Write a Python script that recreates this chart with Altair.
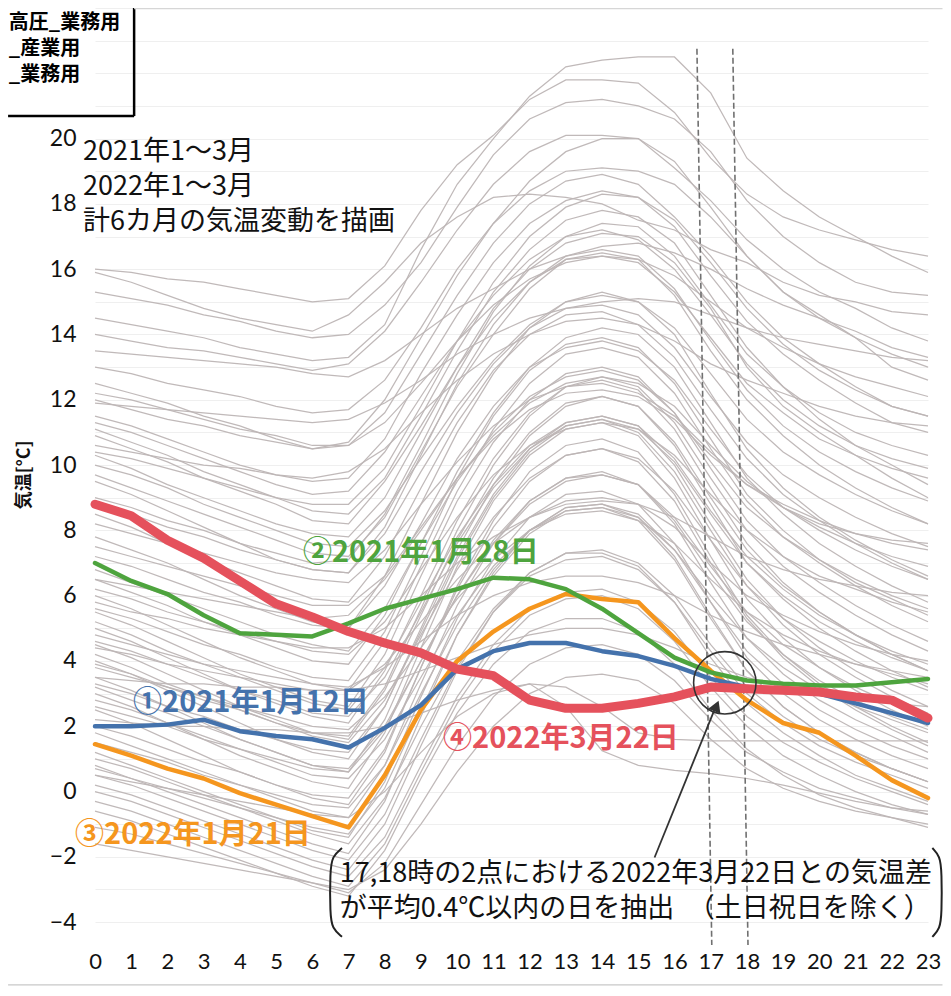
import altair as alt
import pandas as pd

hours = list(range(24))

# highlighted days (temperature in deg C, hour 0..23)
day_2021_0112 = [2.0, 2.0, 2.05, 2.2, 1.85, 1.7, 1.6, 1.35, 1.95, 2.65, 3.75, 4.3,
                 4.55, 4.55, 4.3, 4.15, 3.85, 3.45, 3.2, 3.1, 3.0, 2.7, 2.4, 2.1]
day_2021_0128 = [7.0, 6.45, 6.05, 5.4, 4.85, 4.8, 4.75, 5.15, 5.6, 5.9, 6.2, 6.55,
                 6.5, 6.2, 5.6, 4.85, 4.1, 3.65, 3.4, 3.3, 3.25, 3.25, 3.35, 3.45]
day_2022_0121 = [1.45, 1.1, 0.7, 0.4, -0.05, -0.4, -0.75, -1.1, 0.5, 2.5, 4.0, 4.9,
                 5.6, 6.05, 5.9, 5.8, 4.7, 3.7, 2.8, 2.1, 1.8, 1.1, 0.35, -0.2]
day_2022_0322 = [8.8, 8.45, 7.7, 7.15, 6.45, 5.75, 5.35, 4.9, 4.55, 4.25, 3.75, 3.55,
                 2.8, 2.55, 2.55, 2.7, 2.9, 3.2, 3.15, 3.1, 3.05, 2.9, 2.8, 2.25]

# all other days of Jan-Mar 2021 / Jan-Mar 2022 (grey background lines)
gray_days = [
    [16.0,15.9,15.7,15.6,15.4,15.2,15.0,15.1,16.1,17.8,19.2,20.1,21.2,21.8,21.8,21.7,20.8,19.4,18.3,17.6,17.2,16.9,16.6,16.4],
    [14.5,14.3,14.1,13.9,13.6,13.4,13.2,13.3,14.3,16.6,18.6,20.0,21.3,22.2,22.4,22.5,22.5,21.4,19.4,18.4,17.6,17.0,16.4,15.9],
    [15.9,15.6,15.2,14.8,14.5,14.3,14.1,14.6,15.6,16.8,17.6,18.2,18.3,18.2,18.0,17.5,17.2,16.6,16.2,15.6,15.2,15.0,14.7,14.6],
    [15.3,15.1,14.9,14.6,14.4,14.1,13.9,14.0,14.9,16.2,17.9,19.5,20.6,21.1,21.2,21.0,20.6,19.6,18.1,17.0,16.2,15.6,15.3,15.2],
    [14.0,13.8,13.6,13.5,13.3,13.1,12.9,13.1,14.1,15.6,17.2,18.6,19.6,20.1,20.1,20.0,19.1,18.1,16.9,16.0,15.3,14.8,14.2,13.8],
    [13.5,13.4,13.3,13.2,13.1,13.0,12.8,12.7,13.2,14.0,14.8,15.4,16.0,16.4,16.7,16.8,16.5,16.0,15.4,14.9,14.5,14.1,13.6,13.3],
    [13.0,12.8,12.5,12.3,12.1,11.8,11.6,11.7,12.6,14.2,16.0,17.4,18.4,19.0,19.1,19.0,18.6,17.6,16.4,15.3,14.6,13.9,13.0,12.6],
    [12.0,11.7,11.4,11.2,10.9,10.7,10.5,10.6,11.6,13.4,15.2,16.8,18.0,18.7,18.9,18.6,17.6,16.4,15.0,13.9,13.1,12.4,11.8,11.5],
    [11.9,11.8,11.7,11.6,11.5,11.4,11.3,11.4,11.9,12.6,13.4,14.0,14.5,14.8,15.0,15.1,15.0,14.6,14.2,13.9,13.7,13.5,13.3,13.2],
    [11.5,11.2,10.8,10.4,10.0,9.7,9.5,9.6,10.8,12.8,14.6,16.2,17.4,18.1,18.4,18.2,17.3,15.8,14.4,13.4,12.6,11.9,11.3,11.0],
    [11.3,11.0,10.6,10.2,9.8,9.4,9.1,9.2,10.4,12.1,13.8,15.2,16.3,17.0,17.2,16.9,16.0,14.6,13.1,12.0,11.2,10.6,10.2,9.9],
    [11.1,10.7,10.3,9.8,9.4,9.0,8.6,8.5,9.6,11.5,13.5,15.3,16.6,17.5,17.8,17.6,16.8,15.2,13.6,12.4,11.4,10.6,10.0,9.4],
    [10.9,10.5,10.1,9.6,9.2,8.8,8.3,8.2,9.5,11.2,13.0,14.5,15.6,16.3,16.4,16.2,15.3,13.9,12.5,11.6,10.8,10.3,9.9,9.6],
    [10.6,10.4,10.2,10.0,9.9,9.7,9.6,9.8,10.5,11.6,12.6,13.4,14.0,14.4,14.5,14.3,13.8,13.1,12.6,12.2,11.8,11.5,11.3,11.2],
    [10.3,9.9,9.4,9.0,8.6,8.2,7.9,7.8,9.0,11.0,13.0,14.8,16.0,16.8,17.1,17.0,16.2,14.8,13.0,11.8,11.0,10.3,9.6,9.0],
    [10.0,9.7,9.3,8.8,8.4,8.0,7.6,7.5,8.6,10.2,11.8,13.2,14.3,15.0,15.2,15.0,14.2,12.8,11.4,10.4,9.7,9.1,8.6,8.2],
    [9.7,9.3,8.9,8.5,8.1,7.7,7.3,7.2,8.4,10.4,12.4,14.0,15.4,16.3,16.5,16.3,15.2,13.5,12.0,10.9,10.0,9.3,8.7,8.2],
    [9.5,9.1,8.6,8.1,7.6,7.1,6.8,6.7,7.9,9.8,11.6,13.1,14.2,14.8,14.9,14.6,13.6,12.1,10.7,9.7,9.0,8.4,7.9,7.5],
    [8.5,8.1,7.6,7.1,6.7,6.3,5.9,5.8,7.2,9.3,11.3,12.9,14.0,14.6,14.7,14.3,13.3,11.7,10.2,9.1,8.3,7.6,7.0,6.5],
    [8.2,7.9,7.6,7.3,7.0,6.7,6.5,6.4,7.4,8.8,10.1,11.2,12.0,12.4,12.5,12.2,11.5,10.4,9.4,8.8,8.3,7.9,7.6,7.4],
    [7.8,7.4,7.0,6.5,6.0,5.6,5.2,5.0,6.6,8.8,11.0,12.8,14.2,15.0,15.3,15.0,14.0,12.2,10.5,9.3,8.4,7.7,7.1,6.6],
    [6.8,6.4,6.0,5.6,5.2,4.8,4.5,4.3,5.6,7.6,9.5,11.0,12.1,12.7,12.9,12.6,11.6,10.1,8.7,7.8,7.1,6.5,6.0,5.6],
    [6.5,6.1,5.7,5.2,4.8,4.4,4.0,3.9,5.4,7.6,9.8,11.6,13.0,13.9,14.2,14.0,13.0,11.3,9.6,8.5,7.6,6.9,6.3,5.8],
    [6.2,5.9,5.5,5.2,4.9,4.6,4.3,4.2,5.2,6.8,8.4,9.7,10.6,11.1,11.3,11.1,10.3,9.1,8.0,7.2,6.6,6.2,5.8,5.5],
    [6.0,5.6,5.1,4.6,4.1,3.7,3.3,3.1,4.6,6.9,9.2,11.1,12.5,13.4,13.6,13.3,12.2,10.5,8.9,7.8,7.0,6.3,5.7,5.2],
    [5.8,5.5,5.3,5.0,4.8,4.6,4.4,4.4,5.0,6.0,7.0,7.8,8.4,8.8,8.9,8.8,8.4,7.8,7.2,6.8,6.5,6.3,6.1,6.0],
    [5.5,5.1,4.6,4.1,3.6,3.2,2.8,2.6,4.2,6.6,8.9,10.7,12.0,12.8,13.0,12.7,11.6,9.9,8.3,7.2,6.4,5.7,5.1,4.6],
    [5.2,4.8,4.3,3.9,3.5,3.1,2.7,2.5,3.8,5.8,7.8,9.4,10.6,11.3,11.5,11.2,10.2,8.6,7.2,6.2,5.4,4.8,4.3,3.9],
    [5.0,4.6,4.1,3.6,3.1,2.7,2.3,2.1,3.7,6.0,8.3,10.2,11.6,12.4,12.7,12.4,11.3,9.6,8.0,6.9,6.1,5.4,4.8,4.3],
    [4.8,4.5,4.2,3.9,3.7,3.5,3.3,3.2,3.8,4.6,5.4,6.0,6.4,6.6,6.6,6.4,6.0,5.4,4.9,4.5,4.2,3.9,3.7,3.5],
    [4.5,4.1,3.6,3.1,2.6,2.2,1.8,1.6,3.1,5.4,7.7,9.6,11.0,11.9,12.1,11.8,10.7,9.0,7.4,6.3,5.5,4.8,4.2,3.7],
    [4.2,3.8,3.3,2.9,2.5,2.1,1.7,1.5,2.8,4.8,6.8,8.4,9.6,10.3,10.5,10.2,9.2,7.7,6.3,5.3,4.6,4.0,3.5,3.1],
    [4.0,3.6,3.1,2.6,2.1,1.6,1.2,1.0,2.6,5.0,7.4,9.4,10.9,11.8,12.1,11.8,10.6,8.8,7.0,5.9,5.0,4.3,3.7,3.2],
    [3.8,3.5,3.2,2.9,2.6,2.3,2.0,1.9,2.9,4.4,5.9,7.1,8.0,8.5,8.6,8.3,7.6,6.5,5.5,4.8,4.3,3.9,3.6,3.3],
    [3.5,3.1,2.6,2.1,1.6,1.2,0.8,0.6,2.2,4.7,7.1,9.0,10.4,11.2,11.4,11.0,9.8,8.0,6.3,5.1,4.2,3.5,2.9,2.4],
    [3.2,2.8,2.4,2.0,1.6,1.2,0.8,0.7,2.0,4.0,6.0,7.6,8.8,9.5,9.7,9.4,8.4,6.9,5.5,4.5,3.8,3.2,2.7,2.3],
    [3.0,2.6,2.1,1.6,1.1,0.7,0.3,0.1,1.8,4.4,6.9,8.9,10.3,11.1,11.3,10.9,9.6,7.7,5.9,4.7,3.8,3.1,2.5,2.0],
    [2.8,2.5,2.1,1.7,1.3,0.9,0.5,0.4,1.6,3.5,5.4,6.9,8.0,8.6,8.7,8.4,7.4,6.0,4.7,3.8,3.1,2.6,2.2,1.8],
    [2.5,2.1,1.6,1.1,0.6,0.2,-0.2,-0.4,1.2,3.8,6.3,8.3,9.8,10.6,10.8,10.4,9.1,7.2,5.4,4.2,3.3,2.6,2.0,1.5],
    [1.8,1.4,1.0,0.6,0.2,-0.2,-0.6,-0.8,0.8,3.3,5.7,7.6,8.9,9.6,9.8,9.4,8.2,6.4,4.7,3.6,2.8,2.2,1.7,1.2],
    [1.2,0.8,0.4,0.0,-0.4,-0.8,-1.2,-1.4,0.3,2.9,5.3,7.1,8.4,9.1,9.2,8.8,7.6,5.8,4.1,3.0,2.2,1.6,1.1,0.7],
    [1.0,0.7,0.3,-0.1,-0.5,-0.9,-1.3,-1.6,-0.2,2.0,4.0,5.6,6.7,7.3,7.4,7.0,6.0,4.5,3.2,2.3,1.6,1.1,0.7,0.3],
    [0.8,0.4,0.0,-0.4,-0.8,-1.2,-1.6,-1.9,-0.3,2.3,4.8,6.7,8.0,8.7,8.8,8.4,7.2,5.4,3.7,2.6,1.8,1.2,0.7,0.3],
    [0.5,0.2,-0.2,-0.6,-1.0,-1.4,-1.8,-2.1,-0.7,1.6,3.8,5.5,6.6,7.1,7.2,6.8,5.8,4.3,3.0,2.1,1.4,0.9,0.5,0.1],
    [0.2,-0.1,-0.5,-0.9,-1.3,-1.7,-2.1,-2.4,-1.0,1.4,3.7,5.5,6.7,7.3,7.3,6.9,5.8,4.1,2.7,1.8,1.1,0.5,0.1,-0.3],
    [0.0,-0.3,-0.7,-1.1,-1.5,-1.9,-2.3,-2.6,-1.4,0.8,2.9,4.5,5.6,6.1,6.2,5.8,4.9,3.5,2.3,1.5,0.9,0.4,0.0,-0.4],
    [-0.3,-0.6,-1.0,-1.4,-1.8,-2.2,-2.6,-2.9,-1.6,0.6,2.7,4.3,5.4,5.9,6.0,5.6,4.6,3.2,2.0,1.1,0.5,0.0,-0.4,-0.7],
    [-0.6,-0.9,-1.3,-1.7,-2.1,-2.5,-2.9,-3.2,-1.8,0.4,2.4,3.9,4.9,5.3,5.3,4.9,3.9,2.5,1.3,0.5,-0.1,-0.5,-0.8,-1.1],
    [-1.1,-1.3,-1.6,-1.9,-2.2,-2.5,-2.8,-3.1,-2.2,-0.4,1.4,2.9,3.9,4.4,4.5,4.2,3.4,2.2,1.2,0.6,0.1,-0.2,-0.5,-0.6],
    [-1.6,-1.8,-2.0,-2.2,-2.4,-2.6,-2.8,-3.0,-2.4,-1.0,0.6,2.0,3.0,3.5,3.6,3.4,2.7,1.6,0.7,0.1,-0.3,-0.6,-0.8,-1.0],
    [3.5,3.4,3.3,3.3,3.2,3.2,3.1,3.1,3.3,3.7,4.1,4.5,4.8,5.0,5.0,4.8,4.4,3.9,3.5,3.2,3.0,2.8,2.7,2.6],
    [2.2,2.1,2.0,2.0,1.9,1.9,1.8,1.8,2.0,2.4,2.8,3.1,3.3,3.2,2.6,1.8,1.6,1.55,1.55,1.55,1.55,1.55,1.55,1.55],
    [6.5,6.3,6.1,5.9,5.7,5.5,5.3,5.4,6.5,8.0,9.6,10.8,11.7,12.2,12.3,12.1,11.4,10.3,9.4,8.7,8.2,7.9,7.7,7.6],
    [9.0,8.7,8.3,8.0,7.6,7.3,7.0,7.1,8.5,10.6,12.8,14.7,16.1,17.0,17.4,17.3,16.4,14.9,13.4,12.4,11.6,11.0,10.6,10.3],
    [12.5,12.2,11.9,11.5,11.2,10.8,10.5,10.7,12.0,13.9,15.8,17.4,18.7,19.6,20.0,20.0,19.3,17.9,16.4,15.3,14.5,13.9,13.4,13.0],
    [0.5,0.3,0.1,-0.1,-0.3,-0.5,-0.7,-0.8,0.0,1.2,2.3,3.0,3.3,2.6,1.25,0.8,0.65,0.55,0.4,0.2,-0.05,-0.3,-0.5,-0.7],
    [7.2,6.9,6.5,6.1,5.8,5.4,5.1,5.0,6.3,8.2,10.2,11.8,13.0,13.6,13.8,13.5,12.6,11.1,9.7,8.7,8.0,7.4,6.9,6.5],
    [5.6,5.3,4.9,4.5,4.2,3.8,3.5,3.4,4.9,7.2,9.6,11.5,12.9,13.7,13.9,13.6,12.5,10.8,9.1,8.0,7.1,6.4,5.9,5.4],
    [4.6,4.3,3.9,3.5,3.1,2.8,2.4,2.3,3.5,5.5,7.6,9.3,10.5,11.2,11.4,11.1,10.1,8.5,7.0,6.0,5.2,4.6,4.1,3.7],
    [3.3,3.0,2.6,2.3,1.9,1.6,1.3,1.2,2.6,4.9,7.2,9.1,10.5,11.3,11.5,11.2,10.0,8.2,6.5,5.3,4.4,3.7,3.1,2.6],
    [2.0,1.7,1.3,0.9,0.6,0.2,-0.1,-0.2,1.3,3.8,6.2,8.1,9.5,10.3,10.5,10.1,8.9,7.0,5.3,4.1,3.2,2.5,1.9,1.4],
    [1.5,1.2,0.9,0.5,0.2,-0.1,-0.4,-0.5,0.8,3.0,5.1,6.8,8.0,8.7,8.8,8.5,7.4,5.8,4.3,3.3,2.5,1.9,1.4,1.0],
    [0.7,0.4,0.1,-0.2,-0.5,-0.8,-1.1,-1.3,0.1,2.5,4.8,6.6,7.9,8.6,8.7,8.3,7.1,5.3,3.7,2.6,1.8,1.2,0.7,0.3],
    [2.6,2.3,2.0,1.6,1.3,1.0,0.7,0.6,1.9,4.0,6.0,7.7,8.9,9.6,9.7,9.4,8.3,6.7,5.2,4.2,3.4,2.8,2.3,1.9],
    [3.9,3.6,3.2,2.8,2.5,2.1,1.8,1.7,3.2,5.6,8.0,10.0,11.5,12.4,12.6,12.3,11.1,9.3,7.6,6.4,5.5,4.8,4.2,3.7],
    [4.4,4.2,3.9,3.7,3.5,3.3,3.1,3.1,3.9,5.2,6.5,7.6,8.4,8.9,9.0,8.8,8.1,7.0,6.0,5.4,4.9,4.5,4.2,4.0],
    [8.8,8.5,8.1,7.8,7.4,7.1,6.8,6.7,8.1,10.3,12.5,14.3,15.6,16.4,16.6,16.4,15.4,13.8,12.3,11.2,10.4,9.8,9.3,8.9],
    [10.4,10.2,9.9,9.6,9.3,9.0,8.8,8.8,9.9,11.8,13.8,15.6,17.0,17.9,18.3,18.2,17.5,16.2,14.8,13.7,12.9,12.3,11.8,11.5],
    [12.2,12.0,11.7,11.4,11.1,10.9,10.6,10.6,11.3,12.5,13.8,14.9,15.7,16.2,16.4,16.3,15.8,15.0,14.2,13.6,13.1,12.7,12.4,12.1],
    [7.5,7.2,6.9,6.6,6.3,6.0,5.7,5.7,6.6,8.1,9.6,10.9,11.9,12.5,12.7,12.5,11.8,10.6,9.5,8.7,8.1,7.6,7.2,6.9],
]

y_ticks = list(range(-4, 25))
x_ticks = hours

# ---------------- data frames ----------------
gray_rows = []
for i, s in enumerate(gray_days):
    for h, v in zip(hours, s):
        gray_rows.append({"day": i, "hour": h, "temp": v})
gray_df = pd.DataFrame(gray_rows)

def series_df(vals):
    return pd.DataFrame({"hour": hours, "temp": vals})

xs = alt.Scale(domain=[0, 23], nice=False, zero=False)
ys = alt.Scale(domain=[-4.7, 24], nice=False, zero=False)
num_font = "Lato"
jp_font = "Noto Sans CJK JP"
xax = alt.Axis(values=x_ticks, title=None, grid=False, ticks=False, tickSize=0, domain=False,
               labelFontSize=22, labelColor="#111111", labelFont=num_font, labelPadding=6,
               labelFlush=False, labelOverlap=False)
yax = alt.Axis(values=y_ticks, title=None, grid=True, gridColor="#efefef", gridWidth=1,
               ticks=False, tickSize=0, domain=False, labelFontSize=23, labelColor="#111111",
               labelFont=num_font, labelPadding=19,
               labelExpr="(datum.value % 2 == 0 && datum.value <= 20) ? datum.label : ''")

def X(f="hour"):
    return alt.X(f + ":Q", scale=xs, axis=xax)

def Y(f="temp"):
    return alt.Y(f + ":Q", scale=ys, axis=yax)

gray = alt.Chart(gray_df).mark_line(color="#bdb5b5", strokeWidth=1.25, opacity=0.95).encode(
    x=X(), y=Y(), detail="day:N")

# dashed guide lines at 17h and 18h
dash_df = pd.DataFrame({"hour": [16.62, 17.61], "hour2": [17.03, 18.03],
                        "temp": [22.75, 22.75], "temp2": [-4.7, -4.7]})
dashes = alt.Chart(dash_df).mark_rule(color="#707070", strokeWidth=1.6, strokeDash=[6, 3]).encode(
    x=X(), x2="hour2:Q", y=Y(), y2="temp2:Q")

def colored(vals, color, width):
    return alt.Chart(series_df(vals)).mark_line(color=color, strokeWidth=width,
                                                strokeCap="round", strokeJoin="round").encode(x=X(), y=Y())

c_orange = "#F5961E"
c_blue = "#4472AC"
c_green = "#4EA43E"
c_red = "#E5515C"

l_orange = colored(day_2022_0121, c_orange, 4.5)
l_blue = colored(day_2021_0112, c_blue, 4.5)
l_green = colored(day_2021_0128, c_green, 4.5)
l_red = colored(day_2022_0322, c_red, 9)

def label(text, hx, ty, color, size=29, weight="bold", align="left"):
    df = pd.DataFrame({"hour": [hx], "temp": [ty], "label": [text]})
    return alt.Chart(df).mark_text(align=align, baseline="middle", font=jp_font, fontSize=size,
                                   fontWeight=weight, color=color).encode(x=X(), y=Y(), text="label:N")

lab1 = label("①2021年1月12日", 1.05, 2.71, c_blue)
lab2 = label("②2021年1月28日", 5.74, 7.31, c_green)
lab3 = label("③2022年1月21日", -0.55, -1.33, c_orange)
lab4 = label("④2022年3月22日", 9.61, 1.61, c_red)

info_df = pd.DataFrame({"hour": [-0.33, -0.33, -0.33], "temp": [19.58, 18.52, 17.43],
                        "label": ["2021年1～3月", "2022年1～3月", "計6カ月の気温変動を描画"]})
info = alt.Chart(info_df).mark_text(align="left", baseline="middle", font=jp_font, fontSize=27,
                                    fontWeight="normal", color="#111111").encode(x=X(), y=Y(), text="label:N")

note_df = pd.DataFrame({"hour": [6.76, 6.76], "temp": [-2.52, -3.6],
                        "label": ["17,18時の2点における2022年3月22日との気温差",
                                  "が平均0.4℃以内の日を抽出　（土日祝日を除く）"]})
note = alt.Chart(note_df).mark_text(align="left", baseline="middle", font=jp_font, fontSize=27,
                                    color="#111111").encode(x=X(), y=Y(), text="label:N")

# brackets around the note
br_df = pd.DataFrame({
    "hour": [6.82, 6.55, 6.49, 6.49, 6.55, 6.82, 23.12, 23.33, 23.38, 23.38, 23.33, 23.12],
    "temp": [-1.73, -1.98, -2.45, -3.75, -4.2, -4.45, -1.73, -1.98, -2.45, -3.75, -4.2, -4.45],
    "i": list(range(6)) * 2,
    "side": ["L"] * 6 + ["R"] * 6,
})
brackets = alt.Chart(br_df).mark_line(color="#222222", strokeWidth=2, interpolate="basis").encode(
    x=X(), y=Y(), order="i:Q", detail="side:N")

# circle around the crossing point
circ_df = pd.DataFrame({"hour": [17.39], "temp": [3.33]})
circle = alt.Chart(circ_df).mark_point(shape="circle", size=3900, filled=False, stroke="#333333",
                                       strokeWidth=1.6, opacity=1).encode(x=X(), y=Y())

# arrow
arr_df = pd.DataFrame({"hour": [15.45], "hour2": [17.12], "temp": [-2.02], "temp2": [2.55]})
arrow = alt.Chart(arr_df).mark_rule(color="#333333", strokeWidth=1.8).encode(
    x=X(), x2="hour2:Q", y=Y(), y2="temp2:Q")
head_df = pd.DataFrame({"hour": [17.16], "temp": [2.62]})
head = alt.Chart(head_df).mark_point(shape="triangle-up", angle=22, size=170, filled=True,
                                     color="#333333", opacity=1).encode(x=X(), y=Y())

# y-axis title
yt_df = pd.DataFrame({"hour": [-1.93], "temp": [9.7], "label": ["気温[°C]"]})
ytitle = alt.Chart(yt_df).mark_text(angle=270, align="center", baseline="middle", font=jp_font,
                                    fontSize=18, fontWeight="bold", color="#111111").encode(
    x=X(), y=Y(), text="label:N")

# legend box fragment (top-left) and frame lines
frame_df = pd.DataFrame({
    "hour": [1.08, -2.40, 1.08, -2.40],
    "hour2": [1.08, 1.08, 23.4, 23.4],
    "temp": [24.0, 20.69, 23.98, -5.92],
    "temp2": [20.69, 20.69, 23.98, -5.92],
    "col": ["#000000", "#000000", "#d6d6d6", "#c8c8c8"],
    "w": [2.5, 2.5, 1.2, 1.2],
})
frames = alt.Chart(frame_df).mark_rule().encode(
    x=X(), x2="hour2:Q", y=Y(), y2="temp2:Q",
    color=alt.Color("col:N", scale=None), strokeWidth=alt.StrokeWidth("w:Q", scale=None))

leg_df = pd.DataFrame({"hour": [-2.38, -2.38, -2.38], "temp": [23.55, 22.74, 21.94],
                       "label": ["高圧_業務用", "_産業用", "_業務用"]})
legend_txt = alt.Chart(leg_df).mark_text(align="left", baseline="middle", font=jp_font, fontSize=20,
                                         fontWeight="bold", color="#000000").encode(
    x=X(), y=Y(), text="label:N")

chart = alt.layer(
    gray, dashes, l_orange, l_blue, l_green, l_red,
    circle, arrow, head, brackets,
    lab1, lab2, lab3, lab4, info, note, ytitle, frames, legend_txt,
).properties(
    width=833, height=937,
    padding={"left": 87, "top": 0, "right": 15, "bottom": 43},
    autosize=alt.AutoSizeParams(type="none"),
    background="white",
).configure_view(strokeWidth=0)

chart.save("out.html", embed_options={"renderer": "svg", "actions": False})
